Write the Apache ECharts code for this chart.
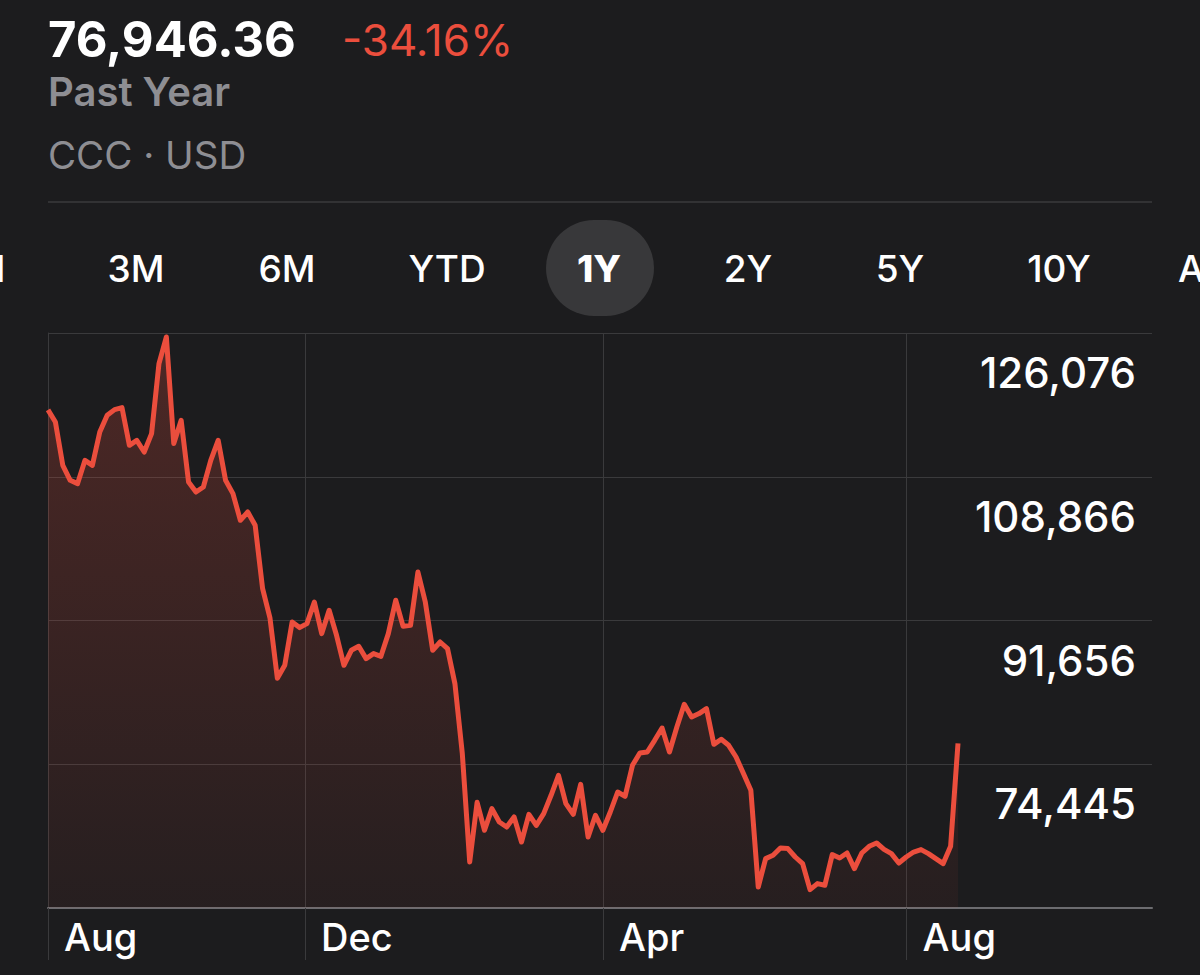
<!DOCTYPE html>
<html>
<head>
<meta charset="utf-8">
<script src="https://cdn.jsdelivr.net/npm/echarts@6/dist/echarts.min.js"></script>
<style>
html,body{margin:0;padding:0;background:#1c1c1e;}
#chart{width:1200px;height:975px;}
</style>
</head>
<body>
<div id="chart"></div>
<script>
// ---- data (one point every ~3 days) ----
const prices = [
  116870,115419,110235,108439,108044,110834,110235,114222,116221,116903,
  117143,112630,113228,111827,114030,122411,125595,112833,115623,108236,
  107039,107637,110834,113228,108439,106847,103650,104644,103052,95510,
  91978,84735,86291,91475,90805,91283,93869,90086,92876,89883,
  86291,88087,88566,87093,87692,87369,90086,94073,90960,91080,
  97461,93869,88087,89081,88290,84100,75720,62742,69889,66537,
  69135,67531,66932,68130,65137,68453,67136,68537,70727,73122,
  69734,68453,72044,65735,68333,66537,68728,71123,70608,74319,
  75792,75911,77312,78785,75911,78904,81622,80102,80509,81107,
  76833,77432,76713,75313,73325,71326,59749,63149,63544,64418,
  64346,63341,62551,59438,60156,59953,63628,63221,63820,61952,
  63820,64622,65017,64263,63748,62622,63341,63939,64227,63748,
  63149,62551,64622,76946
];
const xTickPositions = [0, 34.74, 75.02, 116.05];      // point index where month marks fall
const xTickLabels    = ['Aug', 'Dec', 'Apr', 'Aug'];
const yMin = 57235, yMax = 126076, yStep = 17210.25;     // axis range & gridline step
const headerPrice = '76,946.36';
const headerChange = '-34.16%';
const headerPeriod = 'Past Year';
const headerSymbol = 'CCC · USD';
const tabs = ['1M', '3M', '6M', 'YTD', '1Y', '2Y', '5Y', '10Y', 'ALL'];
const selectedTab = '1Y';

// ---- styling / layout ----
const BG = '#1c1c1e';
const RED = '#eb4e3d';
const GRID = '#3a3a3c';
const GREY = '#8e8e93';
const FONT = 'Inter, "Noto Sans", sans-serif';
const tabCenters = [-19, 136, 287, 447, 599, 748, 900, 1059, 1212];

const chart = echarts.init(document.getElementById('chart'), null, {renderer: 'svg', width: 1200, height: 975});

const tabY = 268.5;
const graphics = [
  {type: 'text', x: 48, y: 39.5, style: {text: headerPrice, fill: '#ffffff', fontFamily: FONT, fontWeight: 700, fontSize: 49, verticalAlign: 'middle', align: 'left'}},
  {type: 'text', x: 342, y: 40, style: {text: headerChange, fill: RED, fontFamily: FONT, fontWeight: 400, fontSize: 44, verticalAlign: 'middle', align: 'left'}},
  {type: 'text', x: 48, y: 91, style: {text: headerPeriod, fill: GREY, fontFamily: FONT, fontWeight: 600, fontSize: 40, verticalAlign: 'middle', align: 'left'}},
  {type: 'text', x: 48, y: 154.5, style: {text: headerSymbol, fill: GREY, fontFamily: FONT, fontWeight: 400, fontSize: 38.5, verticalAlign: 'middle', align: 'left'}},
  {type: 'line', shape: {x1: 48, y1: 202, x2: 1152, y2: 202}, style: {stroke: GRID, lineWidth: 1.5}},
  {type: 'rect', shape: {x: 546, y: 220, width: 108, height: 96, r: 48}, style: {fill: '#38383a'}}
];
tabs.forEach((t, i) => {
  graphics.push({type: 'text', x: tabCenters[i], y: tabY,
    style: {text: t, fill: '#ffffff', fontFamily: FONT, fontWeight: t === selectedTab ? 800 : 500,
            fontSize: 37, verticalAlign: 'middle', align: 'center'}});
});

const option = {
  backgroundColor: BG,
  animation: false,
  graphic: graphics,
  grid: [
    {left: 48, right: 242, top: 333, bottom: 67},   // price line
    {left: 48, right: 48, top: 333, bottom: 67}     // horizontal gridlines + price labels
  ],
  xAxis: [
    {
      type: 'value', gridIndex: 0, min: 0, max: prices.length - 1,
      axisLine: {show: false},
      axisTick: {show: true, customValues: xTickPositions, length: 52, lineStyle: {color: GRID, width: 1}},
      splitLine: {show: true, lineStyle: {color: GRID, width: 1}},
      axisLabel: {
        show: true, customValues: xTickPositions, color: '#ffffff', fontFamily: FONT, fontWeight: 500, fontSize: 38,
        align: 'left', verticalAlign: 'middle', margin: 29, padding: [0, 0, 0, 16],
        formatter: (v) => {
          const k = xTickPositions.findIndex(p => Math.abs(p - v) < 1e-6);
          return k >= 0 ? xTickLabels[k] : '';
        }
      }
    },
    {
      type: 'value', gridIndex: 1, min: 0, max: 1,
      axisLine: {show: true, lineStyle: {color: '#6c6c70', width: 2}},
      axisTick: {show: false}, axisLabel: {show: false}, splitLine: {show: false}
    }
  ],
  yAxis: [
    {
      type: 'value', gridIndex: 0, position: 'right', min: yMin, max: yMax, interval: yStep,
      axisLine: {show: true, lineStyle: {color: GRID, width: 1}},
      axisTick: {show: false}, axisLabel: {show: false}, splitLine: {show: false}
    },
    {
      type: 'value', gridIndex: 1, position: 'right', min: yMin, max: yMax, interval: yStep,
      axisLine: {show: false}, axisTick: {show: false},
      splitLine: {show: true, lineStyle: {color: GRID, width: 1}},
      axisLabel: {
        show: true, inside: true, margin: 16, showMinLabel: false,
        color: '#ffffff', fontFamily: FONT, fontWeight: 500, fontSize: 42,
        verticalAlign: 'top', lineHeight: 79,
        formatter: (v) => (Math.abs(v - yMin) < 1 ? '' : Math.round(v).toLocaleString('en-US'))
      }
    }
  ],
  series: [
    {
      type: 'line', xAxisIndex: 0, yAxisIndex: 0,
      data: prices.map((p, i) => [i, p]),
      showSymbol: false, symbol: 'none',
      lineStyle: {color: RED, width: 5, join: 'round'},
      areaStyle: {
        color: new echarts.graphic.LinearGradient(0, 0, 0, 1, [
          {offset: 0, color: 'rgba(235,78,61,0.34)'},
          {offset: 1, color: 'rgba(235,78,61,0.07)'}
        ])
      },
      z: 3
    }
  ]
};
chart.setOption(option);
</script>
</body>
</html>
